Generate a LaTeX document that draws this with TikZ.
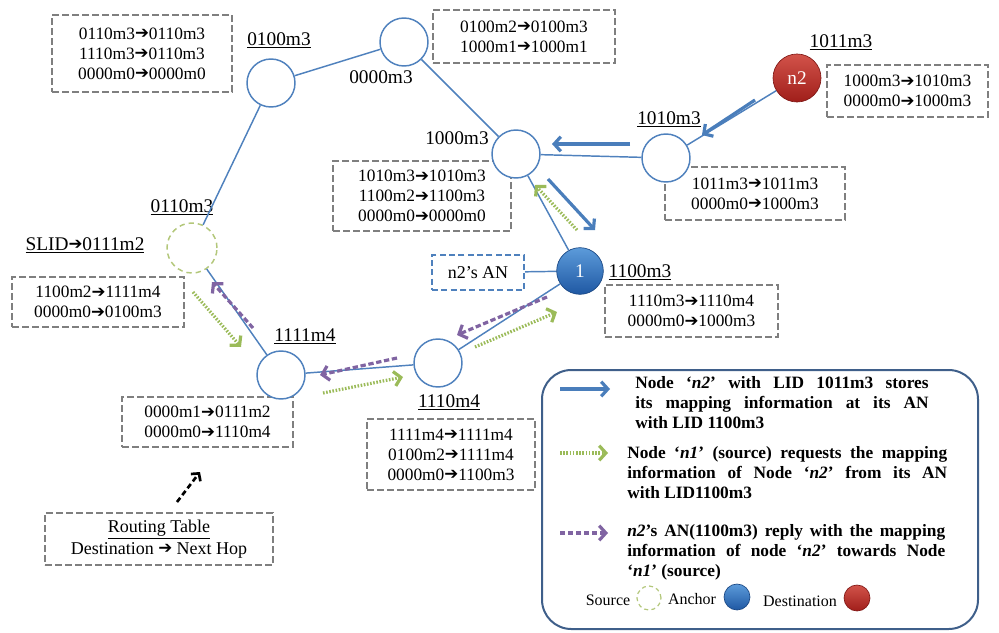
\documentclass[tikz,border=0pt]{standalone}
\usepackage{fontspec}
\setmainfont{Liberation Serif}
\newfontfamily\arrowfont{DejaVu Sans}
\usetikzlibrary{arrows.meta}

\definecolor{edgeblue}{HTML}{4F81BD}
\definecolor{arrblue}{HTML}{4A7EBB}
\definecolor{reqgreen}{HTML}{9BBB59}
\definecolor{srcgreen}{HTML}{B3C77A}
\definecolor{reppurple}{HTML}{8064A2}
\definecolor{tabgray}{HTML}{7F7F7F}
\definecolor{legendframe}{HTML}{3F5F8A}
\definecolor{anctop}{HTML}{5C9BDA}
\definecolor{ancbot}{HTML}{1F58A3}
\definecolor{dsttop}{HTML}{D2534A}
\definecolor{dstbot}{HTML}{A01E1A}

\newcommand\tblfont{\fontsize{13}{15}\selectfont}
\newcommand\lblfont{\fontsize{14.5}{17}\selectfont}
\newcommand\lgdfont{\fontsize{13}{15}\selectfont\bfseries}
\newcommand\keyfont{\fontsize{12}{14}\selectfont}
\newcommand\tabarrow{{\arrowfont\fontsize{12.5}{10}\selectfont\raisebox{0.2pt}{➔}}}

\begin{document}
\begin{tikzpicture}[x=0.75pt,y=-0.75pt,
  peer/.style={circle,draw=edgeblue,line width=1.1pt,fill=white,minimum size=36pt,inner sep=0},
  source/.style={circle,draw=srcgreen,line width=1.1pt,dash pattern=on 4pt off 3pt,fill=white,minimum size=37.5pt,inner sep=0},
  anchorball/.style={circle,draw=ancbot!80!black,line width=0.5pt,top color=anctop,bottom color=ancbot,text=white,minimum size=35pt,inner sep=0,font=\lblfont},
  destball/.style={circle,draw=dstbot!80!black,line width=0.5pt,top color=dsttop,bottom color=dstbot,text=white,minimum size=36pt,inner sep=0,font=\lblfont},
  tbl/.style={draw=tabgray,line width=1.5pt,dash pattern=on 5pt off 2.5pt,align=center,inner sep=0,font=\tblfont},
  lbl/.style={inner sep=0,font=\lblfont},
  link/.style={draw=edgeblue,line width=1.1pt},
  storearrow/.style={draw=arrblue,line width=2.4pt,-{Straight Barb[length=5pt,width=11pt]}},
  reqarrow/.style={draw=reqgreen,line width=2.4pt,dash pattern=on 1.2pt off 1.2pt,-{Straight Barb[length=5pt,width=11pt]}},
  reparrow/.style={draw=reppurple,line width=2.4pt,dash pattern=on 4pt off 2pt,-{Straight Barb[length=5pt,width=11pt]}},
  legendtext/.style={anchor=west,align=left,inner sep=0,font=\lgdfont},
]
\useasboundingbox (0,0) rectangle (999,632);

% routing tables
\node[tbl,minimum width=135pt,minimum height=57.75pt] (t0100) at (142,53.5)
  {0110m3\tabarrow0110m3\\1110m3\tabarrow0110m3\\0000m0\tabarrow0000m0};
\node[tbl,minimum width=136.5pt,minimum height=39.75pt] (t0000) at (524,36.5)
  {0100m2\tabarrow0100m3\\1000m1\tabarrow1000m1};
\node[tbl,minimum width=120.75pt,minimum height=39pt] (t1011) at (907.5,91)
  {1000m3\tabarrow1010m3\\0000m0\tabarrow1000m3};
\node[tbl,minimum width=133.5pt,minimum height=52.5pt] (t1000) at (422,196)
  {1010m3\tabarrow1010m3\\1100m2\tabarrow1100m3\\0000m0\tabarrow0000m0};
\node[tbl,minimum width=135pt,minimum height=39.75pt] (t1010) at (755,193.5)
  {1011m3\tabarrow1011m3\\0000m0\tabarrow1000m3};
\node[tbl,minimum width=129.75pt,minimum height=39pt] (t1100) at (691.5,311)
  {1110m3\tabarrow1110m4\\0000m0\tabarrow1000m3};
\node[tbl,minimum width=126pt,minimum height=53.25pt] (t1110) at (451,454.5)
  {1111m4\tabarrow1111m4\\0100m2\tabarrow1111m4\\0000m0\tabarrow1100m3};
\node[tbl,minimum width=128.25pt,minimum height=37.5pt] (t1111) at (207.5,422)
  {0000m1\tabarrow0111m2\\0000m0\tabarrow1110m4};
\node[tbl,minimum width=129pt,minimum height=37.5pt] (t0110) at (98,302)
  {1100m2\tabarrow1111m4\\0000m0\tabarrow0100m3};
\node[tbl,minimum width=171pt,minimum height=39pt,font=\fontsize{13.5}{16}\selectfont] (key) at (159,539)
  {\underline{Routing Table}\\Destination \tabarrow{} Next Hop};
\node[draw=edgeblue,line width=1.5pt,dash pattern=on 4.5pt off 2.5pt,inner sep=0,
      minimum width=69pt,minimum height=26.25pt,font=\fontsize{13.5}{16}\selectfont] (anlabel) at (478,272.5) {n2’s AN};

% node labels
\node[lbl] (l0100) at (279,40) {\underline{0100m3}};
\node[lbl] (l0000) at (381,77) {0000m3};
\node[lbl] (l1011) at (841,42) {\underline{1011m3}};
\node[lbl] (l1010) at (669,119) {\underline{1010m3}};
\node[lbl] (l1000) at (457,138) {1000m3};
\node[lbl] (l1100) at (640,272) {\underline{1100m3}};
\node[lbl] (l1110) at (449,402) {\underline{1110m4}};
\node[lbl] (l1111) at (305,336) {\underline{1111m4}};
\node[lbl] (l0110) at (182,207) {\underline{0110m3}};
\node[lbl] (slid) at (85,245) {\underline{SLID\tabarrow0111m2}};

% network nodes
\node[peer] (n0100) at (271,83) {};
\node[peer] (n0000) at (404,42) {};
\node[peer] (n1000) at (516,154) {};
\node[peer] (n1010) at (666,158) {};
\node[destball] (n1011) at (797,78) {n2};
\node[anchorball] (n1100) at (580,271) {1};
\node[peer] (n1110) at (438,363) {};
\node[peer] (n1111) at (281,375) {};
\node[source] (n0110) at (192,248) {};

% links
\draw[link] (n0100) -- (n0000);
\draw[link] (n0100) -- (n0110);
\draw[link] (n0000) -- (n1000);
\draw[link] (n1000) -- (n1010);
\draw[link] (n1010) -- (n1011);
\draw[link] (n1000) -- (n1100);
\draw[link] (anlabel) -- (n1100);
\draw[link] (n1100) -- (n1110);
\draw[link] (n1110) -- (n1111);
\draw[link] (n1111) -- (n0110);

% storing the mapping at the anchor
\draw[storearrow] (755,100) -- (702,135);
\draw[storearrow] (630,144) -- (552,144);
\draw[storearrow] (548,179) -- (595,230);
% request from the source
\draw[reqarrow] (193,292) -- (241,347);
\draw[reqarrow] (323,393) -- (403,377);
\draw[reqarrow] (475,347) -- (557,312);
\draw[reqarrow] (577,230) -- (535,185);
% reply from the anchor
\draw[reparrow] (547,297) -- (457,335);
\draw[reparrow] (397,358) -- (320,375);
\draw[reparrow] (253,328) -- (212,282);
% pointer to the table legend
\draw[line width=2pt,dash pattern=on 4pt off 2.5pt,-{Straight Barb[length=4pt,width=9pt]}] (177,502) -- (200,472);

% legend
\draw[draw=legendframe,line width=1.5pt,rounded corners=22pt] (542,370) rectangle (978,629);
\draw[storearrow] (560,389) -- (610,389);
\draw[reqarrow] (560,453) -- (608,453);
\draw[reparrow] (560,533) -- (608,533);
\node[legendtext] (lg1) at (635,403)
  {\makebox[220pt][s]{Node ‘\textit{n2}’ with LID 1011m3 stores}\\
   \makebox[220pt][s]{its mapping information at its AN}\\
   with LID 1100m3};
\node[legendtext] (lg2) at (627,473)
  {\makebox[240pt][s]{Node ‘\textit{n1}’ (source) requests the mapping}\\
   \makebox[240pt][s]{information of Node ‘\textit{n2}’ from its AN}\\
   with LID1100m3};
\node[legendtext] (lg3) at (627,552)
  {\makebox[238.5pt][s]{\textit{n2}’s AN(1100m3) reply with the mapping}\\
   \makebox[238.5pt][s]{information of node ‘\textit{n2}’ towards Node}\\
   ‘\textit{n1}’ (source)};
\node[inner sep=0,font=\keyfont] (ksrc) at (608,600) {Source};
\node[source,minimum size=18pt,line width=0.9pt,dash pattern=on 3pt off 2.5pt] (ksrcsym) at (649,598) {};
\node[inner sep=0,font=\keyfont] (kanc) at (692,599) {Anchor};
\node[anchorball,minimum size=19.5pt] (kancsym) at (737,597) {};
\node[inner sep=0,font=\keyfont] (kdst) at (800,601) {Destination};
\node[destball,minimum size=19.5pt] (kdstsym) at (857,598) {};
\end{tikzpicture}
\end{document}
